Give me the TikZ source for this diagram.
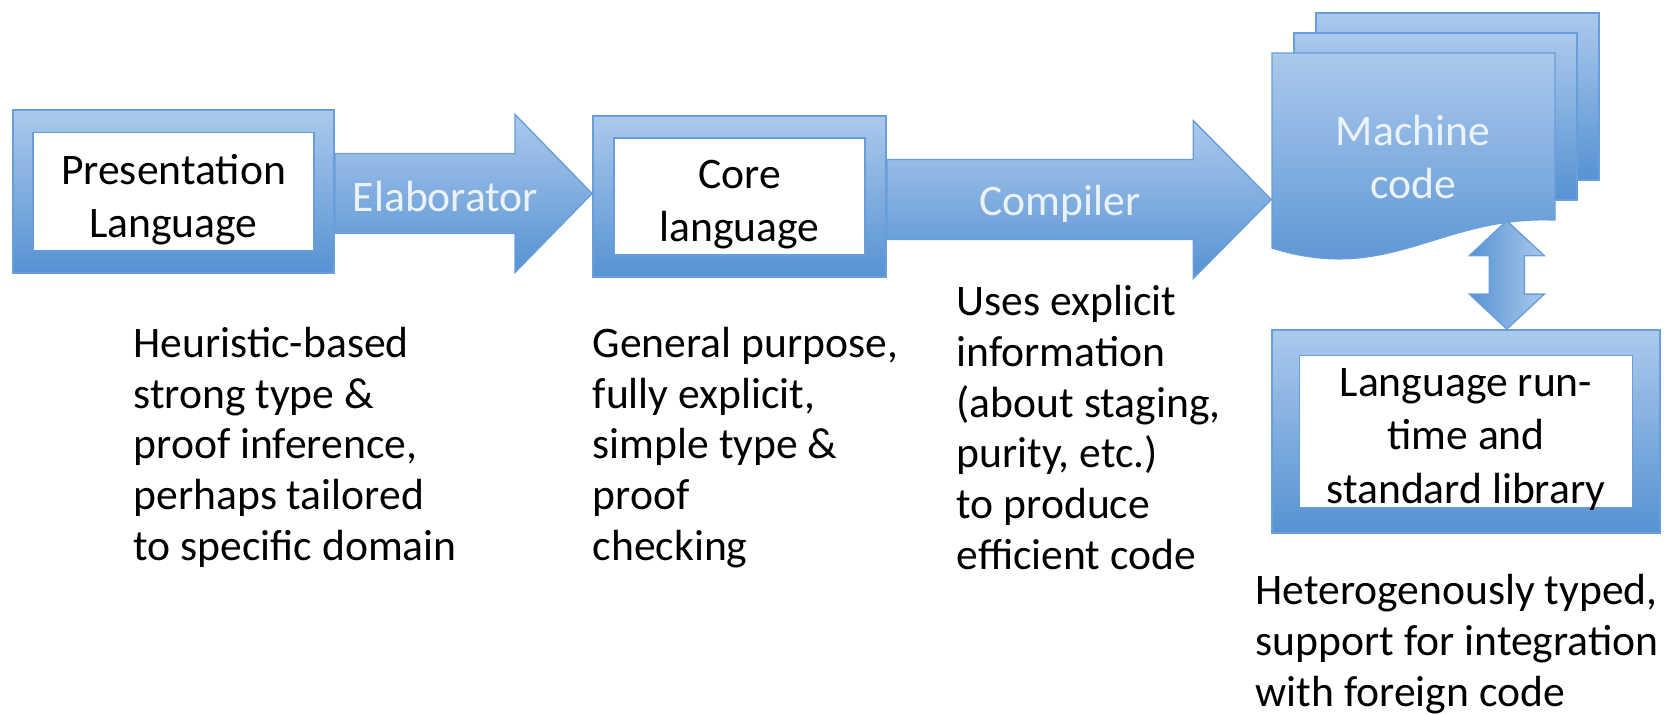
\documentclass[tikz,border=0pt]{standalone}
\usepackage{fontspec}
\setmainfont{Carlito}
\usetikzlibrary{calc,positioning}
\definecolor{lightblue}{RGB}{171,201,236}
\definecolor{darkblue}{RGB}{86,146,211}
\definecolor{edgeblue}{RGB}{104,158,218}
\definecolor{paleword}{RGB}{236,242,250}

\begin{document}
\begin{tikzpicture}[x=0.01cm,y=-0.01cm,
  words/.style={font=\fontsize{12.4}{15.2}\selectfont},
  shell/.style={draw=edgeblue,line width=0.5pt,top color=lightblue,bottom color=darkblue,inner sep=0pt},
  panel/.style={draw=edgeblue,line width=0.5pt,fill=white,inner sep=0pt},
  fat/.style={draw=edgeblue,line width=0.4pt,top color=lightblue,bottom color=darkblue},
  twin/.style={draw=edgeblue,line width=0.4pt,left color=darkblue,right color=lightblue},
  note/.style={font=\fontsize{12.4}{14.4}\selectfont,align=left,anchor=base west,inner sep=0pt}]
  \useasboundingbox (0,0) rectangle (1678,715);
  % Framed boxes
  \node[shell,minimum width=3.21cm,minimum height=1.63cm] (pres) at (173.5,191.5) {};
  \node[panel,minimum width=2.81cm,minimum height=1.18cm] (presin) at (pres) {};
  \node[words,align=center] (presname) at ($(presin)+(0,8)$) {Presentation\\Language};
  \node[shell,minimum width=2.93cm,minimum height=1.61cm] (core) at (739.5,196.5) {};
  \node[panel,minimum width=2.51cm,minimum height=1.17cm] (corein) at (core) {};
  \node[words,align=center] (corename) at ($(corein)+(0,8)$) {Core\\language};
  \node[shell,minimum width=3.88cm,minimum height=2.03cm] (lib) at (1466,431.5) {};
  \node[panel,minimum width=3.33cm,minimum height=1.52cm] (libin) at (lib) {};
  \node[words,align=center] (libname) at ($(libin)+(0,8)$) {Language run-\\time and\\standard library};
  % Stack of machine code pages
  \foreach \i in {2,1}{\path[fat] (1272+22*\i,53-20*\i) rectangle (1555+22*\i,220-20*\i);}
  \path[fat] (1272,53) -- (1555,53) -- (1555,220) .. controls (1440,215) and (1390,285) .. (1272,248) -- cycle;
  \node[minimum width=2.83cm,minimum height=1.67cm,inner sep=0pt] (page) at (1413.5,136.5) {};
  \node[words,text=paleword,align=center] (mc) at (1413,157) {Machine\\code};
  % Block arrows
  \coordinate (etail) at ($(pres.east)+(0,2)$);
  \coordinate (etip) at (core.west |- etail);
  \path[fat] ($(etail)+(0,-40)$) -- ($(etip)+(-77,-40)$) -- ($(etip)+(-77,-79)$) -- (etip)
    -- ($(etip)+(-77,79)$) -- ($(etip)+(-77,40)$) -- ($(etail)+(0,40)$) -- cycle;
  \node[words,text=paleword] (elab) at ($(etail)!0.43!(etip)+(0,3)$) {Elaborator};
  \coordinate (ctail) at ($(core.east)+(0,3)$);
  \coordinate (ctip) at (page.west |- ctail);
  \path[fat] ($(ctail)+(0,-40)$) -- ($(ctip)+(-78,-40)$) -- ($(ctip)+(-78,-79)$) -- (ctip)
    -- ($(ctip)+(-78,79)$) -- ($(ctip)+(-78,40)$) -- ($(ctail)+(0,40)$) -- cycle;
  \node[words,text=paleword] (comp) at ($(ctail)!0.45!(ctip)+(0,4)$) {Compiler};
  % Two-way arrow to the run-time
  \coordinate (top) at ($(page.south east)+(-49,0)$);
  \coordinate (bot) at (lib.north -| top);
  \path[twin] (top) -- ($(top)+(37.5,35)$) -- ($(top)+(17.5,35)$) -- ($(bot)+(17.5,-35)$) -- ($(bot)+(37.5,-35)$) -- (bot)
    -- ($(bot)+(-37.5,-35)$) -- ($(bot)+(-17.5,-35)$) -- ($(top)+(-17.5,35)$) -- ($(top)+(-37.5,35)$) -- cycle;
  % Notes under the stages
  \node[note] (heur) at (133,560) {Heuristic-based\\strong type \&\\proof inference,\\perhaps tailored\\to specific domain};
  \node[note] (gen) at (592,560) {General purpose,\\fully explicit,\\simple type \&\\proof\\checking};
  \node[note] (uses) at (956,569) {Uses explicit\\information\\(about staging,\\purity, etc.)\\to produce\\efficient code};
  \node[note] (het) at (1255,706) {Heterogenously typed,\\support for integration\\with foreign code};
\end{tikzpicture}
\end{document}
